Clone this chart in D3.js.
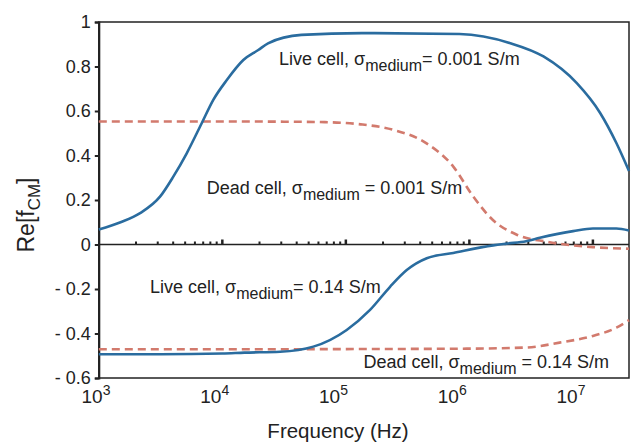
<!DOCTYPE html>
<html>
<head>
<meta charset="utf-8">
<script src="https://cdn.jsdelivr.net/npm/d3@7"></script>
<style>
  body { margin: 0; background: #fff; }
  svg { display: block; font-family: "Liberation Sans", Arial, Helvetica, sans-serif; }
</style>
</head>
<body>
<div id="chart"></div>
<script>
// [frequency Hz, Re[fCM]]
const liveLow = [
  [1000, 0.067], [1500, 0.1], [2160, 0.141], [3130, 0.215], [4010, 0.305],
  [5150, 0.41], [6810, 0.545], [8450, 0.65], [10870, 0.739], [14790, 0.829],
  [19540, 0.874], [23440, 0.904], [43650, 0.942], [134900, 0.95], [831800, 0.946],
  [2.14e6, 0.905], [3.98e6, 0.845], [7.41e6, 0.725], [1.148e7, 0.59],
  [1.549e7, 0.456], [1.96e7, 0.33]
];
const deadLow = [
  [1000, 0.553], [1e4, 0.553], [31600, 0.552], [67600, 0.55], [1e5, 0.546],
  [131800, 0.54], [240000, 0.516], [446700, 0.456], [741300, 0.35],
  [1.07e6, 0.217], [1.55e6, 0.11], [2.4e6, 0.045], [4.27e6, 0.012],
  [1e7, -0.012], [1.96e7, -0.019]
];
const liveHigh = [
  [1000, -0.493], [3160, -0.493], [1e4, -0.49], [15100, -0.486], [29310, -0.482],
  [54580, -0.459], [101600, -0.384], [157000, -0.294], [228000, -0.19],
  [311200, -0.115], [451900, -0.062], [741300, -0.038], [1.56e6, -0.004],
  [2e6, 0.004], [2.88e6, 0.015], [3.72e6, 0.03], [6.92e6, 0.06],
  [1e7, 0.072], [1.55e7, 0.072], [1.96e7, 0.063]
];
const deadHigh = [
  [1000, -0.471], [1e4, -0.471], [1e5, -0.47], [1e6, -0.468], [2.88e6, -0.463],
  [5.37e6, -0.441], [1e7, -0.411], [1.55e7, -0.374], [1.96e7, -0.34]
];

const yTicks = [1, 0.8, 0.6, 0.4, 0.2, 0, -0.2, -0.4, -0.6];
const xDecades = [3, 4, 5, 6, 7];

const labels = [
  { pre: "Live cell, σ", sub: "medium", post: "= 0.001 S/m", f: 28770, v: 0.807 },
  { pre: "Dead cell, σ", sub: "medium", post: " = 0.001 S/m", f: 7480, v: 0.226 },
  { pre: "Live cell, σ", sub: "medium", post: "= 0.14 S/m", f: 2600, v: -0.219 },
  { pre: "Dead cell, σ", sub: "medium", post: " = 0.14 S/m", f: 138700, v: -0.556 }
];

const width = 634, height = 442;
const margin = { top: 22, right: 5, bottom: 64, left: 98.8 };

const x = d3.scaleLog().domain([1000, 1.96e7]).range([margin.left, width - margin.right]);
const y = d3.scaleLinear().domain([-0.6, 1]).range([height - margin.bottom, margin.top]);
// the decade labels in the reference sit on a slightly tighter spacing than the ticks
const xLabel = d3.scaleLog().domain([1e3, 1e7]).range([96, 571]);

const blue = "#2a6c9f";
const red = "#d27a6d";
const ink = "#222";

const svg = d3.select("#chart").append("svg")
  .attr("width", width)
  .attr("height", height);

// frame
svg.append("rect")
  .attr("x", x.range()[0]).attr("y", y(1))
  .attr("width", x.range()[1] - x.range()[0])
  .attr("height", y(-0.6) - y(1))
  .attr("fill", "none")
  .attr("stroke", ink)
  .attr("stroke-width", 1.5);

// y axis
const yAxis = svg.append("g")
  .attr("transform", `translate(${margin.left},0)`)
  .call(d3.axisLeft(y).tickValues(yTicks).tickSize(4).tickPadding(4)
    .tickFormat(d => d === 0 ? "0" : d < 0 ? "- " + d3.format(".1f")(-d) : (d === 1 ? "1" : d3.format(".1f")(d))));
yAxis.select(".domain").attr("stroke", ink).attr("stroke-width", 2);
yAxis.selectAll(".tick line").attr("stroke", ink).attr("stroke-width", 2);
yAxis.selectAll(".tick text").attr("fill", ink).style("font-size", "18px");

// zero line with log ticks pointing up
const minor = [];
const major = [];
for (let e = 3; e < 7; e++) {
  for (let k = 2; k <= 9; k++) minor.push(k * Math.pow(10, e));
  major.push(Math.pow(10, e + 1));
}
svg.append("line")
  .attr("x1", x.range()[0]).attr("x2", x.range()[1])
  .attr("y1", y(0)).attr("y2", y(0))
  .attr("stroke", ink).attr("stroke-width", 1.5);
svg.append("g").selectAll("line")
  .data(minor)
  .join("line")
  .attr("x1", d => x(d)).attr("x2", d => x(d))
  .attr("y1", y(0)).attr("y2", y(0) - 3)
  .attr("stroke", ink).attr("stroke-width", 2);
svg.append("g").selectAll("line")
  .data(major)
  .join("line")
  .attr("x1", d => x(d)).attr("x2", d => x(d))
  .attr("y1", y(0)).attr("y2", y(0) - 5)
  .attr("stroke", ink).attr("stroke-width", 2.5);

// x tick labels as 10^n
const xl = svg.append("g").selectAll("text")
  .data(xDecades)
  .join("text")
  .attr("x", d => xLabel(Math.pow(10, d)))
  .attr("y", 403)
  .attr("text-anchor", "middle")
  .attr("fill", ink)
  .style("font-size", "19px");
xl.append("tspan").text("10");
xl.append("tspan").attr("dy", -8).style("font-size", "14px").text(d => d);

// axis titles
svg.append("text")
  .attr("x", 338).attr("y", 438)
  .attr("text-anchor", "middle")
  .attr("fill", ink)
  .style("font-size", "20.5px")
  .text("Frequency (Hz)");

const yt = svg.append("text")
  .attr("transform", "translate(34,215) rotate(-90)")
  .attr("text-anchor", "middle")
  .attr("fill", ink)
  .style("font-size", "23px");
yt.append("tspan").text("Re[f");
yt.append("tspan").attr("dy", 6).style("font-size", "17px").text("CM");
yt.append("tspan").attr("dy", -6).text("]");

// curves
const line = d3.line()
  .x(d => x(d[0]))
  .y(d => y(d[1]))
  .curve(d3.curveMonotoneX);

const plot = svg.append("g");
plot.append("path").datum(deadLow)
  .attr("d", line).attr("fill", "none")
  .attr("stroke", red).attr("stroke-width", 2.6).attr("stroke-dasharray", "8,5");
plot.append("path").datum(deadHigh)
  .attr("d", line).attr("fill", "none")
  .attr("stroke", red).attr("stroke-width", 2.6).attr("stroke-dasharray", "8,5");
plot.append("path").datum(liveLow)
  .attr("d", line).attr("fill", "none")
  .attr("stroke", blue).attr("stroke-width", 2.6);
plot.append("path").datum(liveHigh)
  .attr("d", line).attr("fill", "none")
  .attr("stroke", blue).attr("stroke-width", 2.6);

// annotations
const ann = svg.append("g").selectAll("text")
  .data(labels)
  .join("text")
  .attr("x", d => x(d.f))
  .attr("y", d => y(d.v))
  .attr("fill", ink)
  .style("font-size", "18px");
ann.append("tspan").text(d => d.pre);
ann.append("tspan").attr("dy", 6).style("font-size", "16px").text(d => d.sub);
ann.append("tspan").attr("dy", -6).text(d => d.post);
</script>
</body>
</html>
